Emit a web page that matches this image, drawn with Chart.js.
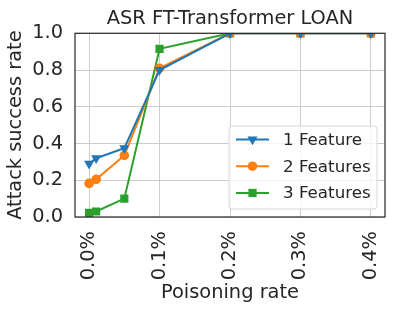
<!DOCTYPE html>
<html>
<head>
<meta charset="utf-8">
<script src="https://cdn.jsdelivr.net/npm/chart.js@4.4.1/dist/chart.umd.min.js"></script>
<style>
  html, body { margin: 0; padding: 0; background: #fff; }
  #wrap { width: 395px; height: 311px; }
</style>
</head>
<body>
<div id="wrap"><canvas id="asr-chart"></canvas></div>
<script>
const poisonRates = [0.0, 0.01, 0.05, 0.1, 0.2, 0.3, 0.4];
const oneFeature = [0.29, 0.32, 0.375, 0.80, 1.0, 1.0, 1.0];
const twoFeatures = [0.183, 0.205, 0.335, 0.81, 1.0, 1.0, 1.0];
const threeFeatures = [0.023, 0.03, 0.10, 0.915, 1.0, 1.0, 1.0];
const xTicks = [0.0, 0.1, 0.2, 0.3, 0.4];
const yTicks = [0.0, 0.2, 0.4, 0.6, 0.8, 1.0];

const font = "'DejaVu Sans', sans-serif";
const ink = "#262626";
const ctx = document.getElementById("asr-chart").getContext("2d");

function toPoints(values) {
  return poisonRates.map((x, i) => ({ x, y: values[i] }));
}

function series(label, values, color, style, radius, rotation) {
  return {
    label,
    data: toPoints(values),
    borderColor: color,
    backgroundColor: color,
    borderWidth: 2,
    pointStyle: style,
    pointRadius: radius,
    pointRotation: rotation || 0,
    pointBorderWidth: 0,
    pointHoverRadius: radius,
    clip: 0,
    tension: 0
  };
}

// full box around the axes, like the matplotlib frame
const frame = {
  id: "frame",
  afterDatasetsDraw(chart) {
    const a = chart.chartArea;
    const c = chart.ctx;
    c.save();
    c.strokeStyle = ink;
    c.lineWidth = 1.2;
    c.strokeRect(a.left, a.top, a.right - a.left, a.bottom - a.top);
    c.restore();
  }
};

// legend in the lower right corner of the plot
const cornerLegend = {
  id: "cornerLegend",
  afterDraw(chart) {
    const a = chart.chartArea;
    const c = chart.ctx;
    const w = 148, h = 83;
    const x0 = a.right - 8 - w, y0 = a.bottom - 8 - h;
    c.save();
    c.beginPath();
    c.roundRect(x0, y0, w, h, 3);
    c.fillStyle = "rgba(255,255,255,0.8)";
    c.fill();
    c.strokeStyle = "#d6d6d6";
    c.lineWidth = 1;
    c.stroke();
    c.font = "16.7px " + font;
    c.textBaseline = "middle";
    chart.data.datasets.forEach((ds, i) => {
      const y = y0 + 13.5 + i * 26.7;
      c.strokeStyle = ds.borderColor;
      c.lineWidth = 2;
      c.beginPath();
      c.moveTo(x0 + 7, y);
      c.lineTo(x0 + 40, y);
      c.stroke();
      c.fillStyle = ds.backgroundColor;
      Chart.helpers.drawPoint(c, {
        pointStyle: ds.pointStyle,
        radius: ds.pointRadius,
        rotation: ds.pointRotation,
        borderWidth: 0
      }, x0 + 23.5, y);
      c.fillStyle = ink;
      c.fillText(ds.label, x0 + 54, y + 1);
    });
    c.restore();
  }
};

new Chart(ctx, {
  type: "line",
  data: {
    datasets: [
      series("1 Feature", oneFeature, "#1f77b4", "triangle", 5.8, 180),
      series("2 Features", twoFeatures, "#ff7f0e", "circle", 4.8),
      series("3 Features", threeFeatures, "#2ca02c", "rect", 5.8)
    ]
  },
  options: {
    responsive: true,
    maintainAspectRatio: false,
    animation: false,
    layout: { padding: { left: 4, right: 10, top: 0, bottom: 0 } },
    plugins: {
      legend: { display: false },
      tooltip: { enabled: false },
      title: {
        display: true,
        fullSize: false,
        text: "ASR FT-Transformer LOAN",
        color: ink,
        font: { family: font, size: 19.4, weight: "normal" },
        padding: { top: 7, bottom: 3 }
      }
    },
    scales: {
      x: {
        type: "linear",
        min: -0.02,
        max: 0.42,
        afterBuildTicks(axis) {
          axis.ticks = xTicks.map(v => ({ value: v }));
        },
        afterFit(axis) {
          axis.height = 94;
          axis.paddingLeft = 0;
          axis.paddingRight = 0;
        },
        ticks: {
          minRotation: 90,
          maxRotation: 90,
          padding: 14,
          color: ink,
          font: { family: font, size: 19.4 },
          callback: v => v.toFixed(1) + "%"
        },
        grid: { color: "#cccccc", lineWidth: 1, drawTicks: false },
        border: { display: false },
        title: {
          display: true,
          text: "Poisoning rate",
          color: ink,
          font: { family: font, size: 19.4 },
          padding: { top: 0, bottom: 6 }
        }
      },
      y: {
        type: "linear",
        min: 0,
        max: 1,
        afterBuildTicks(axis) {
          axis.ticks = yTicks.map(v => ({ value: v }));
        },
        afterFit(axis) {
          axis.width = 71;
        },
        ticks: {
          padding: 12,
          color: ink,
          font: { family: font, size: 19.4 },
          callback: v => v.toFixed(1)
        },
        grid: { color: "#cccccc", lineWidth: 1, drawTicks: false },
        border: { display: false },
        title: {
          display: true,
          text: "Attack success rate",
          color: ink,
          font: { family: font, size: 19.4 },
          padding: { top: 0, bottom: 6 }
        }
      }
    }
  },
  plugins: [frame, cornerLegend]
});
</script>
</body>
</html>
